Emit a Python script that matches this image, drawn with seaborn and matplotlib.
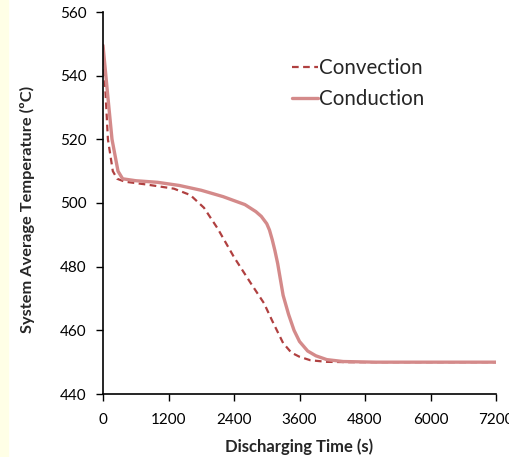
import matplotlib
matplotlib.use("Agg")
import matplotlib.pyplot as plt
import seaborn as sns
import pandas as pd

time_conduction = [0, 80, 165, 275, 360, 600, 1000, 1400, 1800, 2200, 2600, 2800, 2900, 3000, 3050, 3100,
                   3150, 3200, 3300, 3400, 3500, 3600, 3750, 3900, 4100, 4400, 5000, 6000, 7200]
temp_conduction = [549.5, 535, 520, 510, 507.6, 507, 506.5, 505.5, 504, 502, 499.5, 497.3, 495.8, 493.5, 491.5, 488.5,
                   485, 481, 471, 465, 460, 456.5, 453.5, 452, 450.8, 450.2, 450, 450, 450]

time_convection = [0, 45, 90, 180, 260, 400, 800, 1300, 1600, 1850, 2100, 2400, 2700, 2950, 3100,
                   3300, 3450, 3600, 3800, 4100, 4500, 7200]
temp_convection = [549, 535, 520, 510, 507.6, 506.7, 505.8, 504.5, 502.5, 498.5, 492, 483, 475, 468.5, 463,
                   456, 453, 451.7, 450.6, 450.1, 450, 450]

x_ticks = [0, 1200, 2400, 3600, 4800, 6000, 7200]
y_ticks = [440, 460, 480, 500, 520, 540, 560]

sns.set_style("ticks")
plt.rcParams['font.family'] = ['Lato', 'DejaVu Sans']

fig = plt.figure(figsize=(5.09, 4.57), dpi=100)
fig.patches.append(plt.Rectangle((0, 0), 8 / 509, 1, transform=fig.transFigure,
                                 color='#FFFFE6', zorder=-1))
ax = fig.add_axes([103 / 509, 1 - 394 / 457, (496 - 103) / 509, (394 - 12) / 457])

df_conv = pd.DataFrame({"t": time_convection, "T": temp_convection})
df_cond = pd.DataFrame({"t": time_conduction, "T": temp_conduction})

sns.lineplot(data=df_conv, x="t", y="T", ax=ax, color='#B04040', linewidth=1.6,
             linestyle=(0, (3, 2)), label='Convection', sort=False)
sns.lineplot(data=df_cond, x="t", y="T", ax=ax, color='#D48A8A', linewidth=2.4,
             label='Conduction', sort=False)

ax.set_xlim(0, 7200)
ax.set_ylim(440, 560)
ax.set_xticks(x_ticks)
ax.set_yticks(y_ticks)
ax.tick_params(axis='both', labelsize=11, direction='out', length=5, width=1, colors='black')
ax.tick_params(axis='x', pad=8.5)
ax.tick_params(axis='y', pad=7)
for s in ['top', 'right']:
    ax.spines[s].set_visible(False)
for s in ['left', 'bottom']:
    ax.spines[s].set_color('black')
    ax.spines[s].set_linewidth(1.2)

ax.set_xlabel('Discharging Time (s)', fontsize=12, fontweight='bold')
ax.set_ylabel('System Average Temperature (\u00baC)', fontsize=11.8, fontweight='bold')
ax.xaxis.set_label_coords(0.5, (394 - 455) / 382)
ax.xaxis.label.set_va('bottom')
ax.yaxis.set_label_coords(-0.173, 0.484)

leg = ax.legend(loc='upper left', bbox_to_anchor=(0.48, 0.88), frameon=False, fontsize=14.8,
                handlelength=1.3, handletextpad=0.05, labelspacing=0.55, borderaxespad=0,
                borderpad=0)

fig.savefig('out.png', dpi=100)
